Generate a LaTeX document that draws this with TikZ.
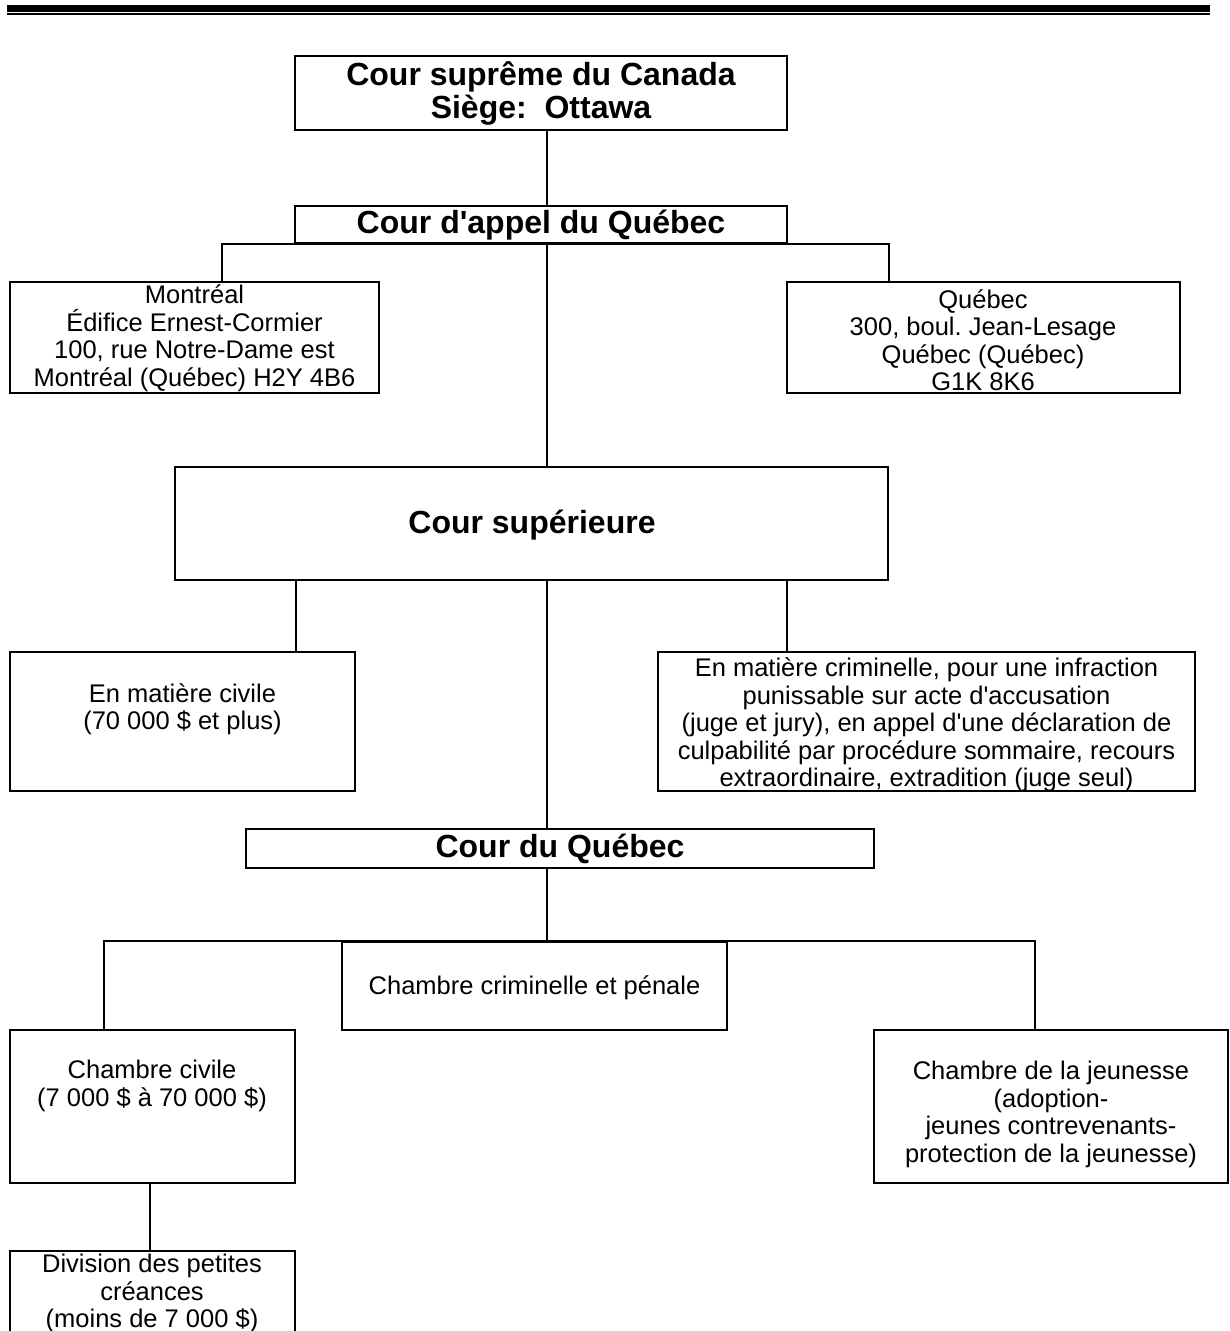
\documentclass[tikz,border=0pt]{standalone}
\usepackage{fontspec}
\setmainfont{Liberation Sans}[Ligatures=TeXOff]
\usetikzlibrary{fit}
\frenchspacing
\begin{document}
\begin{tikzpicture}[x=1pt,y=-1pt,
  box/.style={draw, line width=2pt, inner sep=0pt},
  conn/.style={line width=2pt},
  reg/.style={align=center, font=\fontsize{25.5}{27.5}\selectfont, inner sep=0pt},
  big/.style={align=center, font=\fontsize{32}{33}\selectfont\bfseries, inner sep=0pt}]
\useasboundingbox (0,0) rectangle (1230,1331);
\clip (0,0) rectangle (1230,1331);
% top rule
\fill (7,4.5) rectangle (1210,11.7);
\fill (7,12.8) rectangle (1210,15);
% boxes
\node[box, fit={(295,55.7) (787,130)}] (sup) {};
\node[box, fit={(295,206) (787,243)}] (appel) {};
\node[box, fit={(10,282) (379,393)}] (mon) {};
\node[box, fit={(786.5,282) (1180,393)}] (qc) {};
\node[box, fit={(175,467) (888,580)}] (csup) {};
\node[box, fit={(10,652) (355,791)}] (civ) {};
\node[box, fit={(658,652) (1195,791)}] (crsup) {};
\node[box, fit={(246,829) (874,868)}] (cq) {};
\node[box, fit={(342,942) (727,1030)}] (crim) {};
\node[box, fit={(10,1030) (294.5,1183)}] (cciv) {};
\node[box, fit={(874,1030) (1228,1183)}] (jeun) {};
\node[box, fit={(10,1251) (294.5,1345)}] (div) {};
% texts
\node[big] (tsup) at (541,93.5) {Cour suprême du Canada\\Siège:\ \ Ottawa};
\node[big] (tappel) at (541,225) {Cour d'appel du Québec};
\node[reg] (tmon) at (194.5,338) {Montréal\\Édifice Ernest-Cormier\\100, rue Notre-Dame est\\Montréal (Québec) H2Y 4B6};
\node[reg] (tqc) at (983,340) {Québec\\300, boul. Jean-Lesage\\Québec (Québec)\\G1K 8K6};
\node[big] (tcsup) at (532,525) {Cour supérieure};
\node[reg] (tciv) at (182.5,709) {En matière civile\\(70 000 \$ et plus)};
\node[reg] (tcrsup) at (926.5,725) {En matière criminelle, pour une infraction\\punissable sur acte d'accusation\\(juge et jury), en appel d'une déclaration de\\culpabilité par procédure sommaire, recours\\extraordinaire, extradition (juge seul)};
\node[big] (tcq) at (560,849) {Cour du Québec};
\node[reg] (tcrim) at (534.5,988) {Chambre criminelle et pénale};
\node[reg] (tcciv) at (152,1086) {Chambre civile\\(7 000 \$ à 70 000 \$)};
\node[reg] (tjeun) at (1051,1114.5) {Chambre de la jeunesse\\(adoption-\\jeunes contrevenants-\\protection de la jeunesse)};
\node[reg] (tdiv) at (152,1293.5) {Division des petites\\créances\\(moins de 7 000 \$)};
% connector x positions
\coordinate (xs) at (547,0);
\coordinate (xm) at (222,0);
\coordinate (xq) at (889,0);
\coordinate (xc) at (296,0);
\coordinate (xk) at (787,0);
\coordinate (xcc) at (103.5,0);
\coordinate (xj) at (1035,0);
\coordinate (xd) at (150,0);
% connectors
\draw[conn] (xs |- sup.south) -- (xs |- appel.north);
\draw[conn] (xs |- appel.south) -- (xs |- csup.north);
\draw[conn] (xs |- csup.south) -- (xs |- cq.north);
\draw[conn] (xs |- cq.south) -- (xs |- crim.north);
\draw[conn] (xm |- mon.north) -- (xm |- appel.south) -- (xq |- appel.south) -- (xq |- qc.north);
\draw[conn] (xc |- csup.south) -- (xc |- civ.north);
\draw[conn] (xk |- csup.south) -- (xk |- crsup.north);
\draw[conn] (xcc |- cciv.north) -- (xcc |- crim.north) -- (xj |- crim.north) -- (xj |- jeun.north);
\draw[conn] (xd |- cciv.south) -- (xd |- div.north);
\end{tikzpicture}
\end{document}
